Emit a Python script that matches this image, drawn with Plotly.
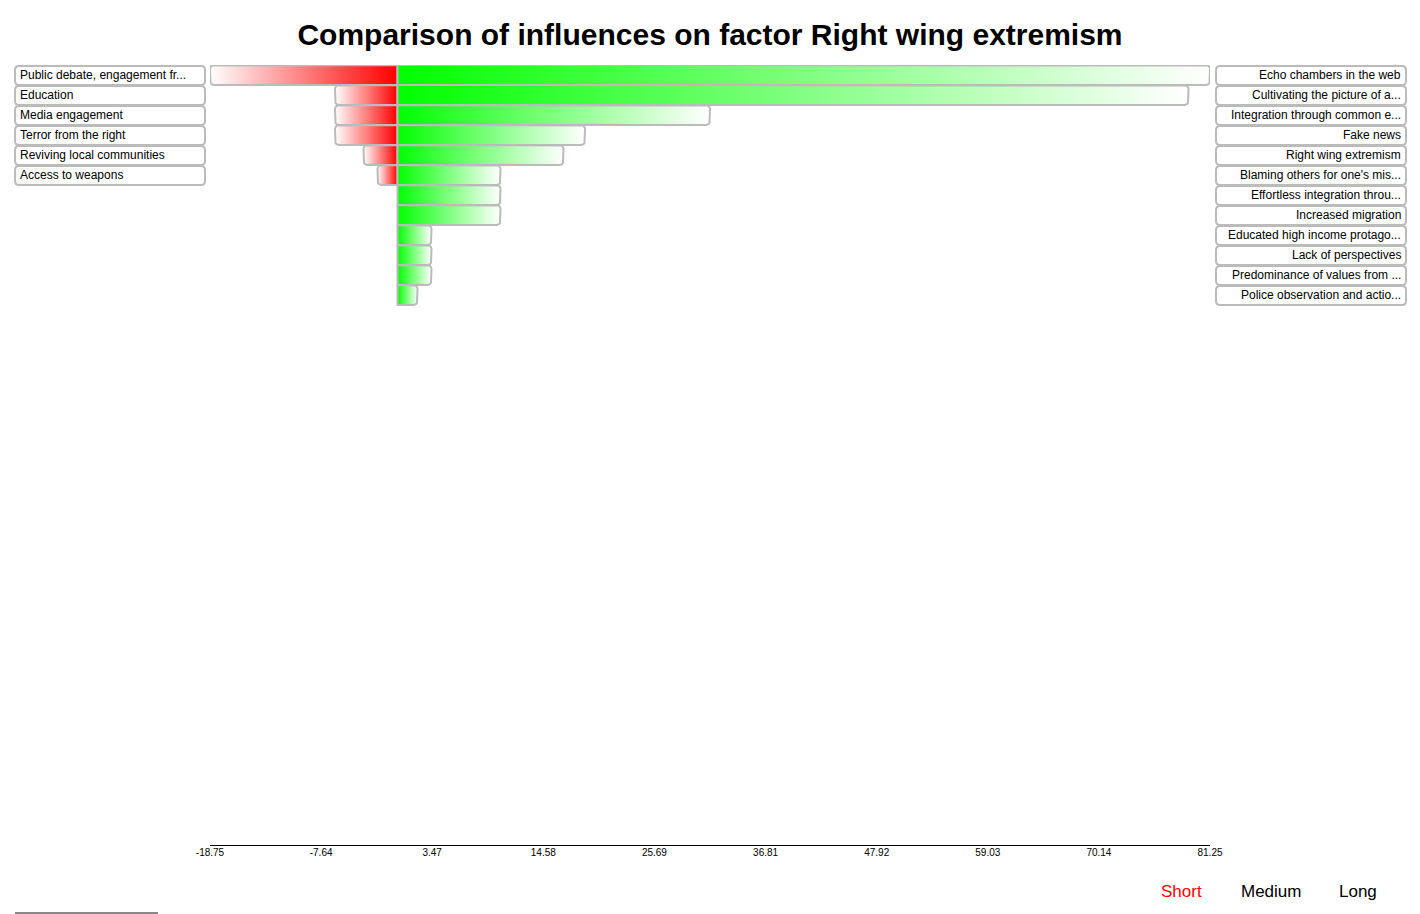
import numpy as np
import plotly.graph_objects as go

TITLE = "Comparison of influences on factor Right wing extremism"

neg_labels = [
    "Public debate, engagement fr...",
    "Education",
    "Media engagement",
    "Terror from the right",
    "Reviving local communities",
    "Access to weapons",
]
neg_values = [-18.75, -6.25, -6.25, -6.25, -3.4, -2.0]

pos_labels = [
    "Echo chambers in the web",
    "Cultivating the picture of a...",
    "Integration through common e...",
    "Fake news",
    "Right wing extremism",
    "Blaming others for one's mis...",
    "Effortless integration throu...",
    "Increased migration",
    "Educated high income protago...",
    "Lack of perspectives",
    "Predominance of values from ...",
    "Police observation and actio...",
]
pos_values = [81.25, 79.1, 31.25, 18.75, 16.6, 10.3, 10.3, 10.3, 3.4, 3.4, 3.4, 2.0]

tick_vals = [-18.75, -7.64, 3.47, 14.58, 25.69, 36.81, 47.92, 59.03, 70.14, 81.25]
tick_text = ["-18.75", "-7.64", "3.47", "14.58", "25.69", "36.81", "47.92", "59.03", "70.14", "81.25"]

periods = ["Short", "Medium", "Long"]
active_period = "Short"

# ---- geometry ----
W, H = 1420, 914
ML, MR, MT, MB = 210, 210, 65, 69
PW = W - ML - MR
PH = H - MT - MB
X0, X1 = tick_vals[0], tick_vals[-1]
ROW_PX = 20
N_ROWS = PH / ROW_PX
px_per_x = PW / (X1 - X0)

FONT = "Liberation Sans, Arial, Helvetica, sans-serif"
BORDER = "#bbbbbb"


def bar_polygon(v, row, h=0.5, rpx=4):
    rx = rpx / px_per_x
    ry = rpx / ROW_PX
    s = 1 if v >= 0 else -1
    top, bot = row - h, row + h
    xs = [0, v - s * rx]
    ys = [top, top]
    t = np.linspace(np.pi / 2, 0, 7)
    xs += list(v - s * rx + s * rx * np.cos(t))
    ys += list(top + ry - ry * np.sin(t))
    t2 = np.linspace(0, -np.pi / 2, 7)
    xs += list(v - s * rx + s * rx * np.cos(t2))
    ys += list(bot - ry - ry * np.sin(t2))
    xs += [v - s * rx, 0, 0]
    ys += [bot, bot, top]
    return xs, ys


fig = go.Figure()

for i, v in enumerate(neg_values):
    xs, ys = bar_polygon(v, i)
    fig.add_trace(go.Scatter(
        x=xs, y=ys, mode="lines", fill="toself",
        line=dict(color=BORDER, width=2),
        fillgradient=dict(type="horizontal", colorscale=[[0, "#ffffff"], [1, "#ff0000"]]),
        hoverinfo="skip", showlegend=False))

for i, v in enumerate(pos_values):
    xs, ys = bar_polygon(v, i)
    fig.add_trace(go.Scatter(
        x=xs, y=ys, mode="lines", fill="toself",
        line=dict(color=BORDER, width=2),
        fillgradient=dict(type="horizontal", colorscale=[[0, "#00ff00"], [1, "#ffffff"]]),
        hoverinfo="skip", showlegend=False))


def px2paper_x(px):
    return (px - ML) / PW


def px2paper_y(py):
    return (H - MB - py) / PH


def rounded_rect_path(x0, y0, x1, y1, r=4):
    def P(x, y):
        return f"{px2paper_x(x)},{px2paper_y(y)}"
    return (f"M {P(x0 + r, y0)} L {P(x1 - r, y0)} Q {P(x1, y0)} {P(x1, y0 + r)} "
            f"L {P(x1, y1 - r)} Q {P(x1, y1)} {P(x1 - r, y1)} L {P(x0 + r, y1)} "
            f"Q {P(x0, y1)} {P(x0, y1 - r)} L {P(x0, y0 + r)} Q {P(x0, y0)} {P(x0 + r, y0)} Z")


shapes = []
annotations = []
BOX_TOP0 = MT + 1
for i, lab in enumerate(neg_labels):
    y0 = BOX_TOP0 + i * ROW_PX
    shapes.append(dict(type="path", xref="paper", yref="paper",
                       path=rounded_rect_path(15, y0, 205, y0 + 19),
                       line=dict(color=BORDER, width=2), fillcolor="white"))
    annotations.append(dict(text=lab, xref="paper", yref="paper",
                            x=px2paper_x(18), y=px2paper_y(y0 + 9),
                            xanchor="left", yanchor="middle", showarrow=False,
                            font=dict(family=FONT, size=12, color="black")))
for i, lab in enumerate(pos_labels):
    y0 = BOX_TOP0 + i * ROW_PX
    shapes.append(dict(type="path", xref="paper", yref="paper",
                       path=rounded_rect_path(1216, y0, 1406, y0 + 19),
                       line=dict(color=BORDER, width=2), fillcolor="white"))
    annotations.append(dict(text=lab, xref="paper", yref="paper",
                            x=px2paper_x(1403), y=px2paper_y(y0 + 9),
                            xanchor="right", yanchor="middle", showarrow=False,
                            font=dict(family=FONT, size=12, color="black")))

period_x = [1181, 1271, 1358]
for lab, xp in zip(periods, period_x):
    annotations.append(dict(text=lab, xref="paper", yref="paper",
                            x=px2paper_x(xp), y=px2paper_y(891),
                            xanchor="center", yanchor="middle", showarrow=False,
                            font=dict(family=FONT, size=17,
                                      color="#ff0000" if lab == active_period else "black")))

shapes.append(dict(type="line", xref="paper", yref="paper",
                   x0=px2paper_x(15), x1=px2paper_x(158),
                   y0=px2paper_y(913), y1=px2paper_y(913),
                   line=dict(color="#888888", width=2)))

fig.update_layout(
    width=W, height=H,
    margin=dict(l=ML, r=MR, t=MT, b=MB, pad=0),
    paper_bgcolor="white", plot_bgcolor="white",
    title=dict(text=f"<b>{TITLE}</b>", x=0.5, xref="container", xanchor="center",
               y=1 - 34 / H, yref="container", yanchor="middle",
               font=dict(family=FONT, size=30, color="black")),
    xaxis=dict(range=[X0, X1], tickvals=tick_vals, ticktext=tick_text,
               showgrid=False, zeroline=False, showline=True, linecolor="black",
               linewidth=1, ticks="", ticklabelstandoff=-2,
               tickfont=dict(family=FONT, size=10, color="black"),
               fixedrange=True),
    yaxis=dict(range=[N_ROWS - 0.5, -0.5], visible=False, showgrid=False,
               zeroline=False, fixedrange=True),
    shapes=shapes, annotations=annotations,
    showlegend=False,
)

fig.write_html("out.html")
